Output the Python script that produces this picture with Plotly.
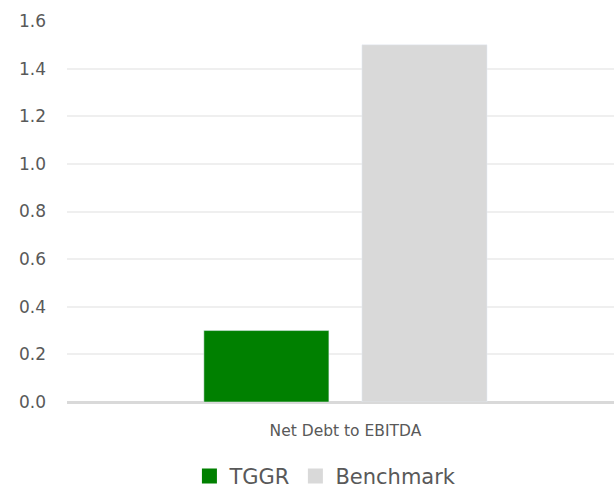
import plotly.graph_objects as go

categories = ["Net Debt to EBITDA"]
tggr = [0.3]
benchmark = [1.5]
tick_vals = [0.0, 0.2, 0.4, 0.6, 0.8, 1.0, 1.2, 1.4, 1.6]
tick_text = ["0.0", "0.2", "0.4", "0.6", "0.8", "1.0", "1.2", "1.4", "1.6"]

green = "#008000"
gray = "#d9d9d9"
text_color = "#595959"
font_family = "DejaVu Sans, sans-serif"

fig = go.Figure()
fig.add_trace(go.Bar(name="TGGR", x=categories, y=tggr, marker_color=green, showlegend=False))
fig.add_trace(go.Bar(name="Benchmark", x=categories, y=benchmark, marker_color=gray, showlegend=False))
# legend entries with larger square swatches
fig.add_trace(go.Scatter(name="TGGR", x=[None], y=[None], mode="markers",
                         marker=dict(symbol="square", size=15, color=green)))
fig.add_trace(go.Scatter(name="Benchmark", x=[None], y=[None], mode="markers",
                         marker=dict(symbol="square", size=15, color=gray)))

fig.update_layout(
    width=614, height=491,
    margin=dict(l=67, r=0, t=21, b=89),
    paper_bgcolor="white", plot_bgcolor="white",
    font=dict(family=font_family, color=text_color),
    barmode="group", bargap=0.422, bargroupgap=0.209,
    showlegend=True,
    legend=dict(orientation="h", xref="container", yref="container",
                x=0.53, xanchor="center", y=0.03, yanchor="middle",
                font=dict(size=21, color=text_color), itemwidth=30, traceorder="normal"),
    xaxis=dict(showgrid=False, showline=False, tickfont=dict(size=15.5, color=text_color),
               ticks="", ticklabelstandoff=17, automargin=False, range=[-0.509, 0.491]),
    yaxis=dict(range=[0, 1.6], tickvals=tick_vals, ticktext=tick_text,
               showgrid=True, gridcolor="#efefef", gridwidth=2,
               zeroline=True, zerolinecolor="#d9d9d9", zerolinewidth=2.5,
               tickfont=dict(size=17, color=text_color), ticklabelstandoff=20,
               showline=False, automargin=False),
)
fig.write_html("out.html", config={"displayModeBar": False},
               post_script="document.body.style.margin='0';document.body.style.overflow='hidden';")
